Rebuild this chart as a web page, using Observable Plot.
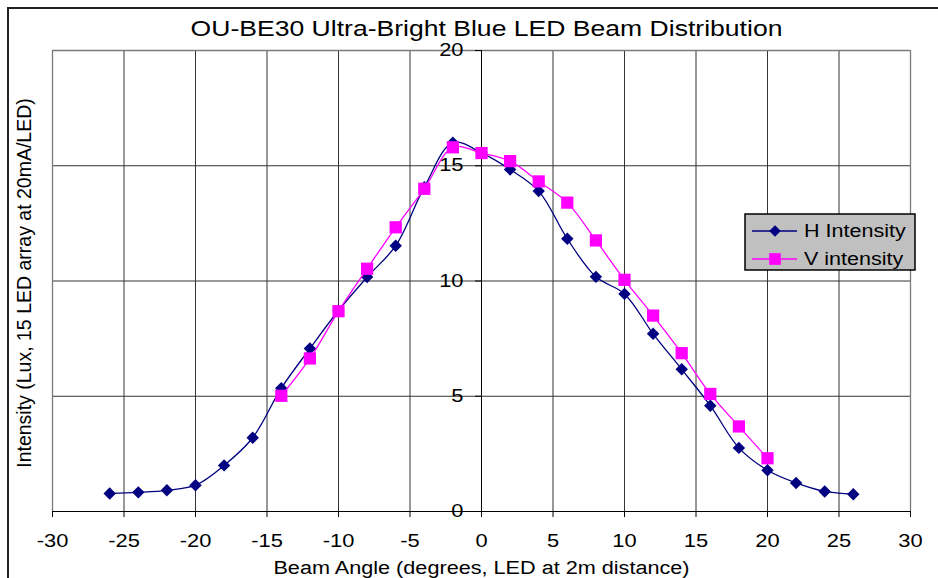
<!DOCTYPE html>
<html><head><meta charset="utf-8">
<script src="https://cdn.jsdelivr.net/npm/d3@7"></script>
<script src="https://cdn.jsdelivr.net/npm/@observablehq/plot@0.6"></script>
<style>
html,body{margin:0;padding:0;background:#fff;overflow:hidden;width:938px;height:578px}
#wrap{position:relative;width:938px;height:578px;font-family:"Liberation Sans",Arial,sans-serif}
#border{position:absolute;left:7px;top:7px;width:1000px;height:1000px;border:2px solid #222;pointer-events:none}
#legend{position:absolute;left:744px;top:213px}
</style></head><body><div id="wrap"><div id="border"></div></div>
<script>
const title = "OU-BE30 Ultra-Bright Blue LED Beam Distribution";
const xLabel = "Beam Angle (degrees, LED at 2m distance)";
const yLabel = "Intensity (Lux, 15 LED array at 20mA/LED)";

const hAngles = [-26,-24,-22,-20,-18,-16,-14,-12,-10,-8,-6,-4,-2,0,2,4,6,8,10,12,14,16,18,20,22,24,26];
const hValues = [0.78,0.83,0.92,1.14,2.0,3.2,5.35,7.07,8.72,10.17,11.53,14.07,16.0,15.56,14.84,13.9,11.83,10.18,9.44,7.71,6.17,4.59,2.76,1.79,1.24,0.87,0.75];
const vAngles = [-14,-12,-10,-8,-6,-4,-2,0,2,4,6,8,10,12,14,16,18,20];
const vValues = [5.02,6.64,8.69,10.53,12.33,14.0,15.8,15.55,15.2,14.32,13.4,11.76,10.05,8.5,6.87,5.1,3.69,2.31];

const xTicks = [-30,-25,-20,-15,-10,-5,0,5,10,15,20,25,30];
const yTicks = [0,5,10,15,20];
const seriesNames = ["H Intensity","V intensity"];
const seriesColors = ["#000080","#ff00ff"];
const seriesSymbols = ["diamond2","square"];

const hData = hAngles.map((a,i)=>({angle:a, value:hValues[i]}));
const vData = vAngles.map((a,i)=>({angle:a, value:vValues[i]}));

const SX = 1.23;
const FONT = "Liberation Sans, Arial, sans-serif";

const chart = Plot.plot({
  width: 938, height: 578,
  marginLeft: 52, marginRight: 28, marginTop: 50, marginBottom: 67,
  style: {fontFamily: FONT, background: "transparent", color: "#000"},
  x: {domain: [-30, 30], axis: null},
  y: {domain: [0, 20], axis: null},
  marks: [
    Plot.ruleX(xTicks.filter(t => t !== -30 && t !== 30 && t !== 0), {stroke: "#333", strokeWidth: 1}),
    Plot.ruleY(yTicks.filter(t => t !== 0 && t !== 20), {stroke: "#333", strokeWidth: 1}),
    Plot.ruleX([xTicks[0], xTicks[xTicks.length-1]], {stroke: "#7a7a7a", strokeWidth: 1.3}),
    Plot.ruleY([yTicks[yTicks.length-1]], {stroke: "#7a7a7a", strokeWidth: 1.3}),
    Plot.ruleY([0], {stroke: "#000", strokeWidth: 1}),
    Plot.ruleX([0], {stroke: "#000", strokeWidth: 1}),
    Plot.ruleX(xTicks, {x: d => d, y1: 0, y2: 0, insetTop: -3, insetBottom: -3, dy: 3, stroke: "#000"}),
    Plot.ruleY(yTicks, {y: d => d, x1: 0, x2: 0, insetLeft: -3, insetRight: -3, dx: -3, stroke: "#000"}),
    Plot.text(xTicks, {x: d => d, y: 0, text: d => String(d), dy: 30, lineAnchor: "middle", fontSize: 17.8, fill: "#000"}),
    Plot.text(yTicks, {x: 0, y: d => d, text: d => String(d), textAnchor: "end", lineAnchor: "middle", dx: -18, fontSize: 17.8, fill: "#000"}),
    Plot.text([title], {frameAnchor: "top", text: d => d, dx: 5, dy: -21, lineAnchor: "middle", fontSize: 21.6, fill: "#000"}),
    Plot.text([xLabel], {frameAnchor: "bottom", text: d => d, dy: 57, lineAnchor: "middle", fontSize: 17.6, fill: "#000"}),
    Plot.text([yLabel], {frameAnchor: "left", text: d => d, dx: -28, dy: 2, rotate: -90, textAnchor: "middle", lineAnchor: "middle", fontSize: 19.5, fill: "#000"}),
    Plot.line(hData, {x: "angle", y: "value", stroke: seriesColors[0], strokeWidth: 1.3, curve: "catmull-rom"}),
    Plot.dot(hData, {x: "angle", y: "value", symbol: seriesSymbols[0], r: 5.6, fill: seriesColors[0], stroke: "none"}),
    Plot.line(vData, {x: "angle", y: "value", stroke: seriesColors[1], strokeWidth: 1.3, curve: "catmull-rom"}),
    Plot.dot(vData, {x: "angle", y: "value", symbol: seriesSymbols[1], r: 6.9, fill: seriesColors[1], stroke: "none"})
  ]
});

// widen glyphs horizontally to match the reference's stretched lettering (horizontal texts only)
d3.select(chart).selectAll("text").each(function() {
  const t = this.getAttribute("transform");
  if (t && t.includes("rotate")) return;
  if (t) this.setAttribute("transform", t + ` scale(${SX},1)`);
  else {
    const x = +this.getAttribute("x") || 0, y = +this.getAttribute("y") || 0;
    this.setAttribute("x", 0); this.setAttribute("y", 0);
    this.setAttribute("transform", `translate(${x},${y}) scale(${SX},1)`);
  }
});

const wrap = document.getElementById("wrap");
wrap.insertBefore(chart, wrap.firstChild);

// legend
const lg = d3.select(wrap).append("svg").attr("id", "legend").attr("width", 174).attr("height", 60);
lg.append("rect").attr("x", 1).attr("y", 1).attr("width", 170).attr("height", 56)
  .attr("fill", "#c0c0c0").attr("stroke", "#000").attr("stroke-width", 1.5);
seriesNames.forEach((name, i) => {
  const cy = 18 + i * 28;
  const g = lg.append("g");
  g.append("line").attr("x1", 8).attr("x2", 53).attr("y1", cy).attr("y2", cy)
    .attr("stroke", seriesColors[i]).attr("stroke-width", 1.3);
  const size = i === 0 ? 84 : 137;
  const sym = i === 0 ? d3.symbolDiamond2 : d3.symbolSquare;
  g.append("path").attr("d", d3.symbol(sym, size)()).attr("transform", `translate(31,${cy})`)
    .attr("fill", seriesColors[i]);
  g.append("text").attr("transform", `translate(60,${cy}) scale(${SX},1)`).attr("dy", "0.35em")
    .attr("font-family", FONT).attr("font-size", 17.5).attr("fill", "#000").text(name);
});
</script></body></html>
